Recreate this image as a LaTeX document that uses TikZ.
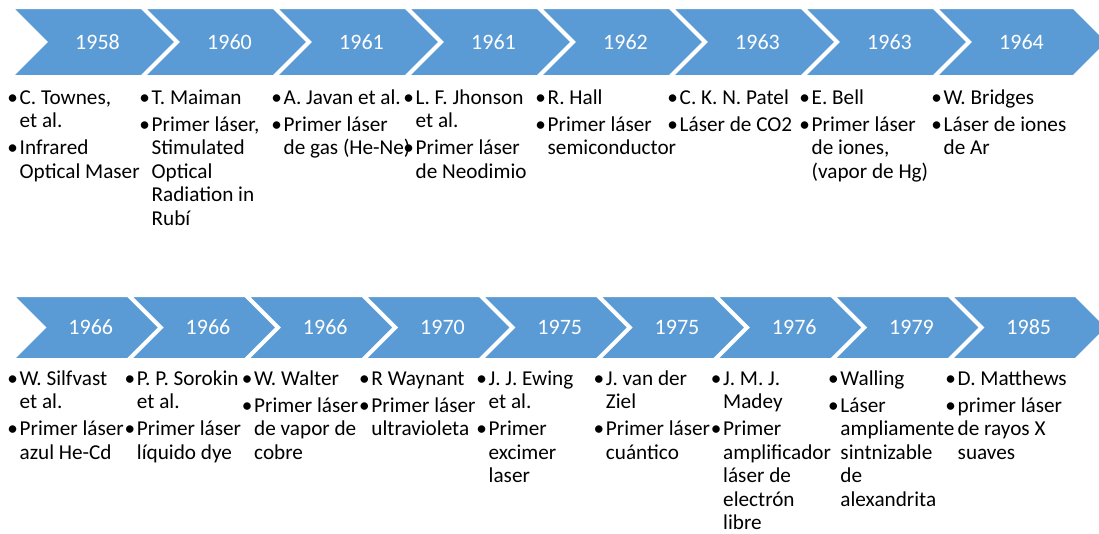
\documentclass[tikz,border=0pt]{standalone}
\usepackage{fontspec}
\setmainfont{Carlito}
\usetikzlibrary{shapes.symbols}

\definecolor{chevblue}{HTML}{5B9BD5}
\newcommand{\bul}{\makebox[9.5pt][l]{\hspace*{-2.8pt}\textbullet}}
\newcommand{\ind}{\hspace*{9.5pt}}

\begin{document}
\begin{tikzpicture}[x=1pt, y=-1pt,
    chevtop/.style={shape=signal, signal from=west, signal to=east,
      signal pointer angle=90, fill=chevblue, draw=white, line width=4pt,
      minimum width=175pt, minimum height=70pt, inner sep=0pt,
      text=white, font=\fontsize{22}{24}\selectfont},
    chevbot/.style={chevtop, minimum width=159.5pt, minimum height=65pt},
    note/.style={anchor=north west, align=left, inner sep=0pt,
      font=\fontsize{21.2}{23.4}\selectfont}]
  \useasboundingbox (0,0) rectangle (1099,533);

  % top row
  \node[chevtop] (c1) at (97.5, 42) {1958};
  \node[chevtop] (c2) at (229.5, 42) {1960};
  \node[chevtop] (c3) at (361.5, 42) {1961};
  \node[chevtop] (c4) at (493.5, 42) {1961};
  \node[chevtop] (c5) at (625.5, 42) {1962};
  \node[chevtop] (c6) at (757.5, 42) {1963};
  \node[chevtop] (c7) at (889.5, 42) {1963};
  \node[chevtop] (c8) at (1021.5, 42) {1964};

  \node[note] (n1) at (10, 88) {\strut\bul C. Townes,\\\ind et al.\\[3.5pt]\bul Infrared\\\ind Optical Maser};
  \node[note] (n2) at (142, 88) {\strut\bul T. Maiman\\[3.5pt]\bul Primer láser,\\\ind Stimulated\\\ind Optical\\\ind Radiation in\\\ind Rubí};
  \node[note] (n3) at (274, 88) {\strut\bul A. Javan et al.\\[3.5pt]\bul Primer láser\\\ind de gas (He-Ne)};
  \node[note] (n4) at (406, 88) {\strut\bul L. F. Jhonson\\\ind et al.\\[3.5pt]\bul Primer láser\\\ind de Neodimio};
  \node[note] (n5) at (538, 88) {\strut\bul R. Hall\\[3.5pt]\bul Primer láser\\\ind semiconductor};
  \node[note] (n6) at (670, 88) {\strut\bul C. K. N. Patel\\[3.5pt]\bul Láser de CO2};
  \node[note] (n7) at (802, 88) {\strut\bul E. Bell\\[3.5pt]\bul Primer láser\\\ind de iones,\\\ind (vapor de Hg)};
  \node[note] (n8) at (934, 88) {\strut\bul W. Bridges\\[3.5pt]\bul Láser de iones\\\ind de Ar};

  % bottom row
  \node[chevbot] (c9) at (90.75, 327.5) {1966};
  \node[chevbot] (c10) at (208, 327.5) {1966};
  \node[chevbot] (c11) at (325.25, 327.5) {1966};
  \node[chevbot] (c12) at (442.5, 327.5) {1970};
  \node[chevbot] (c13) at (559.75, 327.5) {1975};
  \node[chevbot] (c14) at (677, 327.5) {1975};
  \node[chevbot] (c15) at (794.25, 327.5) {1976};
  \node[chevbot] (c16) at (911.5, 327.5) {1979};
  \node[chevbot] (c17) at (1028.75, 327.5) {1985};

  \node[note] (n9) at (10, 369) {\strut\bul W. Silfvast\\\ind et al.\\[3.5pt]\bul Primer láser\\\ind azul He-Cd};
  \node[note] (n10) at (127.25, 369) {\strut\bul P. P. Sorokin\\\ind et al.\\[3.5pt]\bul Primer láser\\\ind líquido dye};
  \node[note] (n11) at (244.5, 369) {\strut\bul W. Walter\\[3.5pt]\bul Primer láser\\\ind de vapor de\\\ind cobre};
  \node[note] (n12) at (361.75, 369) {\strut\bul R Waynant\\[3.5pt]\bul Primer láser\\\ind ultravioleta};
  \node[note] (n13) at (479, 369) {\strut\bul J. J. Ewing\\\ind et al.\\[3.5pt]\bul Primer\\\ind excimer\\\ind laser};
  \node[note] (n14) at (596.25, 369) {\strut\bul J. van der\\\ind Ziel\\[3.5pt]\bul Primer láser\\\ind cuántico};
  \node[note] (n15) at (713.5, 369) {\strut\bul J. M. J.\\\ind Madey\\[3.5pt]\bul Primer\\\ind amplificador\\\ind láser de\\\ind electrón\\\ind libre};
  \node[note] (n16) at (830.75, 369) {\strut\bul Walling\\[3.5pt]\bul Láser\\\ind ampliamente\\\ind sintnizable\\\ind de\\\ind alexandrita};
  \node[note] (n17) at (948, 369) {\strut\bul D. Matthews\\[3.5pt]\bul primer láser\\\ind de rayos X\\\ind suaves};
\end{tikzpicture}
\end{document}
